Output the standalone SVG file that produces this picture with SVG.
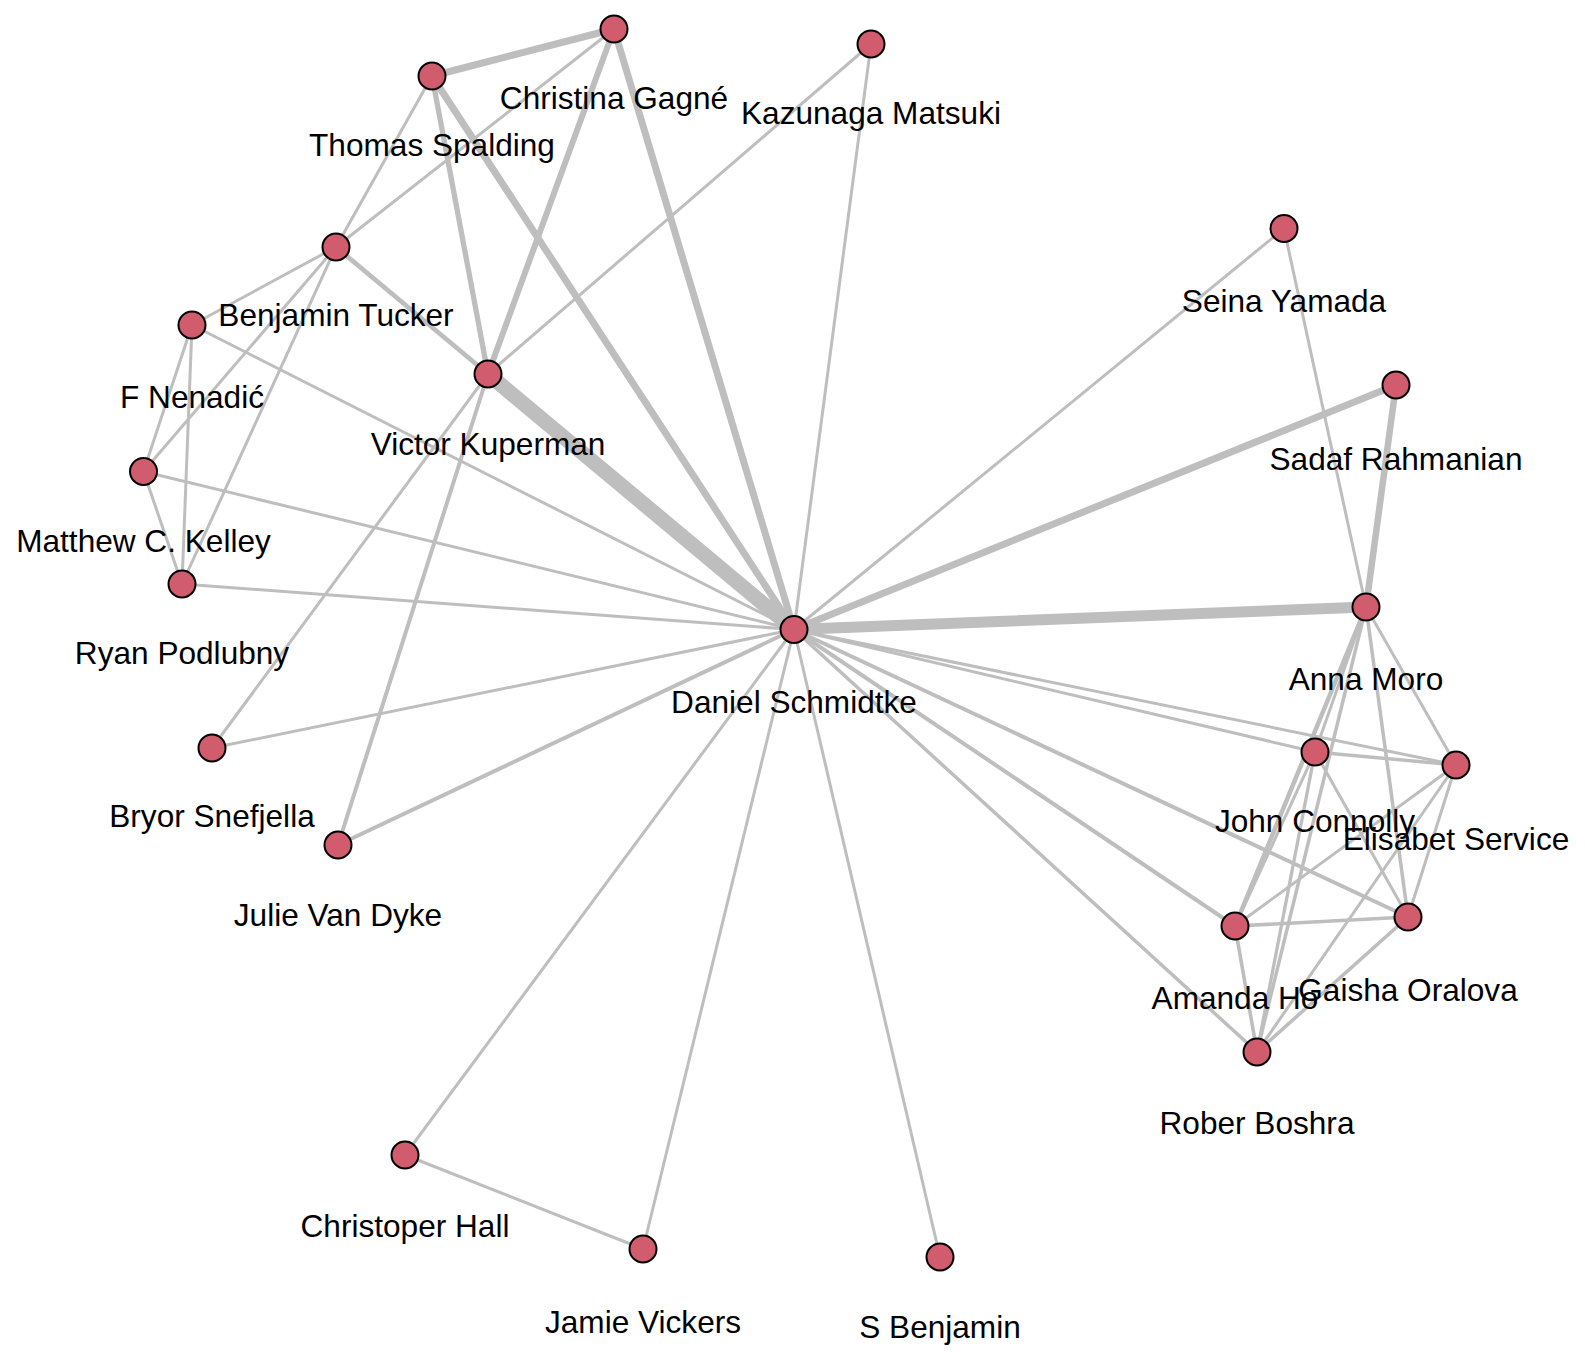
<svg xmlns="http://www.w3.org/2000/svg" width="1585" height="1364" viewBox="0 0 1585 1364">
<style>
.e{stroke:#BEBEBE;stroke-linecap:round;fill:none}
.t{stroke-width:3}
.n circle{fill:#D05C6E;stroke:#000;stroke-width:2}
.n text{font-family:"Liberation Sans",Arial,sans-serif;font-size:31.6px;fill:#000;text-anchor:middle}
</style>
<rect width="1585" height="1364" fill="#fff"/>
<g id="edges" class="e">
<line x1="794" y1="629.5" x2="488" y2="374" stroke-width="15"/>
<line x1="794" y1="629.5" x2="1366" y2="607" stroke-width="11"/>
<line x1="794" y1="629.5" x2="1396" y2="385" stroke-width="7"/>
<line x1="794" y1="629.5" x2="614" y2="29" stroke-width="7"/>
<line x1="794" y1="629.5" x2="432" y2="76" stroke-width="7"/>
<line class="t" x1="794" y1="629.5" x2="871" y2="44"/>
<line class="t" x1="794" y1="629.5" x2="192" y2="325"/>
<line class="t" x1="794" y1="629.5" x2="143.5" y2="471.5"/>
<line class="t" x1="794" y1="629.5" x2="182" y2="584"/>
<line class="t" x1="794" y1="629.5" x2="212" y2="748"/>
<line x1="794" y1="629.5" x2="338" y2="845" stroke-width="4"/>
<line class="t" x1="794" y1="629.5" x2="405" y2="1155"/>
<line class="t" x1="794" y1="629.5" x2="643" y2="1249"/>
<line class="t" x1="794" y1="629.5" x2="940" y2="1257"/>
<line class="t" x1="794" y1="629.5" x2="1284" y2="228.5"/>
<line class="t" x1="794" y1="629.5" x2="1315" y2="752"/>
<line class="t" x1="794" y1="629.5" x2="1456" y2="765"/>
<line x1="794" y1="629.5" x2="1408" y2="917" stroke-width="4"/>
<line x1="794" y1="629.5" x2="1235" y2="926" stroke-width="4"/>
<line x1="794" y1="629.5" x2="1257" y2="1052" stroke-width="3.5"/>
<line x1="432" y1="76" x2="614" y2="29" stroke-width="7"/>
<line x1="432" y1="76" x2="488" y2="374" stroke-width="5.3"/>
<line class="t" x1="432" y1="76" x2="336" y2="247"/>
<line class="t" x1="614" y1="29" x2="336" y2="247"/>
<line x1="614" y1="29" x2="488" y2="374" stroke-width="6"/>
<line class="t" x1="871" y1="44" x2="488" y2="374"/>
<line class="t" x1="488" y1="374" x2="212" y2="748"/>
<line x1="488" y1="374" x2="338" y2="845" stroke-width="4"/>
<line x1="336" y1="247" x2="488" y2="374" stroke-width="4.7"/>
<line class="t" x1="336" y1="247" x2="192" y2="325"/>
<line class="t" x1="336" y1="247" x2="143.5" y2="471.5"/>
<line class="t" x1="336" y1="247" x2="182" y2="584"/>
<line class="t" x1="192" y1="325" x2="143.5" y2="471.5"/>
<line class="t" x1="192" y1="325" x2="182" y2="584"/>
<line class="t" x1="143.5" y1="471.5" x2="182" y2="584"/>
<line class="t" x1="405" y1="1155" x2="643" y2="1249"/>
<line class="t" x1="1284" y1="228.5" x2="1366" y2="607"/>
<line x1="1396" y1="385" x2="1366" y2="607" stroke-width="6.5"/>
<line class="t" x1="1366" y1="607" x2="1315" y2="752"/>
<line class="t" x1="1366" y1="607" x2="1456" y2="765"/>
<line x1="1366" y1="607" x2="1235" y2="926" stroke-width="4.5"/>
<line x1="1366" y1="607" x2="1408" y2="917" stroke-width="3.5"/>
<line x1="1366" y1="607" x2="1257" y2="1052" stroke-width="3.5"/>
<line x1="1315" y1="752" x2="1456" y2="765" stroke-width="3.3"/>
<line class="t" x1="1315" y1="752" x2="1235" y2="926"/>
<line class="t" x1="1315" y1="752" x2="1408" y2="917"/>
<line x1="1315" y1="752" x2="1257" y2="1052" stroke-width="3.3"/>
<line class="t" x1="1456" y1="765" x2="1235" y2="926"/>
<line class="t" x1="1456" y1="765" x2="1408" y2="917"/>
<line class="t" x1="1456" y1="765" x2="1257" y2="1052"/>
<line x1="1235" y1="926" x2="1408" y2="917" stroke-width="3.6"/>
<line x1="1235" y1="926" x2="1257" y2="1052" stroke-width="3.6"/>
<line x1="1408" y1="917" x2="1257" y2="1052" stroke-width="3.6"/>
</g>
<g id="node-christina-gagne" class="n"><circle cx="614" cy="29" r="13.5"/><text x="614" y="108.5">Christina Gagné</text></g>
<g id="node-thomas-spalding" class="n"><circle cx="432" cy="76" r="13.5"/><text x="432" y="156">Thomas Spalding</text></g>
<g id="node-kazunaga-matsuki" class="n"><circle cx="871" cy="44" r="13.5"/><text x="871" y="124">Kazunaga Matsuki</text></g>
<g id="node-benjamin-tucker" class="n"><circle cx="336" cy="247" r="13.5"/><text x="336" y="326">Benjamin Tucker</text></g>
<g id="node-f-nenadic" class="n"><circle cx="192" cy="325" r="13.5"/><text x="192" y="408">F Nenadić</text></g>
<g id="node-victor-kuperman" class="n"><circle cx="488" cy="374" r="13.5"/><text x="488" y="455">Victor Kuperman</text></g>
<g id="node-matthew-kelley" class="n"><circle cx="143.5" cy="471.5" r="13.5"/><text x="143.5" y="552">Matthew C. Kelley</text></g>
<g id="node-ryan-podlubny" class="n"><circle cx="182" cy="584" r="13.5"/><text x="182" y="664">Ryan Podlubny</text></g>
<g id="node-bryor-snefjella" class="n"><circle cx="212" cy="748" r="13.5"/><text x="212" y="827">Bryor Snefjella</text></g>
<g id="node-julie-van-dyke" class="n"><circle cx="338" cy="845" r="13.5"/><text x="338" y="926">Julie Van Dyke</text></g>
<g id="node-daniel-schmidtke" class="n"><circle cx="794" cy="629.5" r="13.5"/><text x="794" y="712.5">Daniel Schmidtke</text></g>
<g id="node-seina-yamada" class="n"><circle cx="1284" cy="228.5" r="13.5"/><text x="1284" y="311.5">Seina Yamada</text></g>
<g id="node-sadaf-rahmanian" class="n"><circle cx="1396" cy="385" r="13.5"/><text x="1396" y="469.5">Sadaf Rahmanian</text></g>
<g id="node-anna-moro" class="n"><circle cx="1366" cy="607" r="13.5"/><text x="1366" y="690">Anna Moro</text></g>
<g id="node-john-connolly" class="n"><circle cx="1315" cy="752" r="13.5"/><text x="1315" y="832">John Connolly</text></g>
<g id="node-elisabet-service" class="n"><circle cx="1456" cy="765" r="13.5"/><text x="1456" y="849.5">Elisabet Service</text></g>
<g id="node-amanda-ho" class="n"><circle cx="1235" cy="926" r="13.5"/><text x="1235" y="1008.5">Amanda Ho</text></g>
<g id="node-gaisha-oralova" class="n"><circle cx="1408" cy="917" r="13.5"/><text x="1408" y="1000.5">Gaisha Oralova</text></g>
<g id="node-rober-boshra" class="n"><circle cx="1257" cy="1052" r="13.5"/><text x="1257" y="1133.5">Rober Boshra</text></g>
<g id="node-christoper-hall" class="n"><circle cx="405" cy="1155" r="13.5"/><text x="405" y="1236.5">Christoper Hall</text></g>
<g id="node-jamie-vickers" class="n"><circle cx="643" cy="1249" r="13.5"/><text x="643" y="1332.5">Jamie Vickers</text></g>
<g id="node-s-benjamin" class="n"><circle cx="940" cy="1257" r="13.5"/><text x="940" y="1337.5">S Benjamin</text></g>
</svg>
